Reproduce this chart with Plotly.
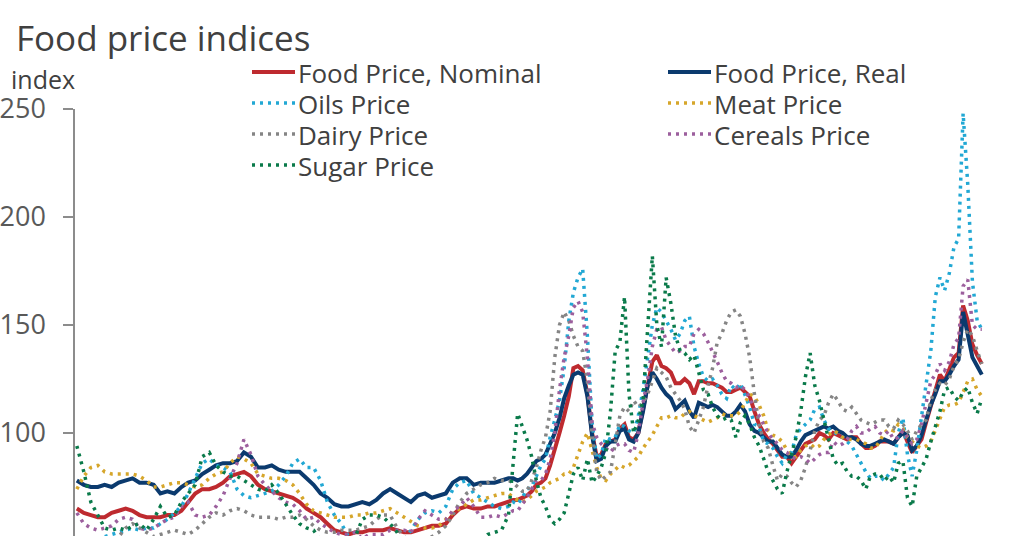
import pandas as pd
import plotly.graph_objects as go

# quarterly points 1990-2005, every second month 2006-2022
quarterly = pd.date_range("1990-05-01", "2005-11-01", freq="3MS")
bimonthly = pd.date_range("2006-01-01", "2022-11-01", freq="2MS")
dates = list(quarterly) + list(bimonthly)

food_nominal = [
    65, 63, 62,
    61, 61, 63, 64,  65, 64, 62, 61,  61, 61, 62, 62,  64, 68, 72, 74,
    74, 75, 77, 80,  81, 82, 80, 76,  74, 73, 72, 71,  70, 68, 65, 63,
    61, 58, 55, 54,  53, 54, 54, 55,  55, 55, 56, 55,  54, 54, 55, 56,
    57, 57, 58, 62,  65, 66, 65, 65,  66, 66, 67, 68,
    69, 69, 70, 71, 73, 76,
    77, 79, 85, 92, 100, 108,
    117, 130, 131, 129, 118, 100,
    89, 90, 95, 96, 97, 102,
    104, 98, 97, 100, 110, 122,
    133, 136, 131, 130, 128, 123,
    123, 125, 123, 118, 124, 124,
    123, 123, 122, 121, 119, 119,
    120, 121, 119, 117, 110, 104,
    100, 97, 95, 92, 89, 89,
    86, 89, 92, 95, 96, 97,
    100, 99, 97, 100, 99, 98,
    97, 98, 98, 95, 93, 93,
    94, 96, 96, 96, 95, 98,
    101, 96, 91, 94, 97, 105,
    113, 119, 127, 124, 129, 135,
    137, 159, 152, 141, 136, 132,
]
food_real = [
    78, 76, 75,
    75, 76, 75, 77,  78, 79, 77, 77,  76, 72, 73, 72,  75, 77, 78, 81,
    83, 85, 86, 86,  87, 91, 89, 84,  84, 85, 83, 82,  82, 82, 79, 76,
    72, 70, 67, 66,  66, 67, 68, 67,  69, 72, 74, 72,  70, 68, 71, 72,
    70, 71, 72, 77,  79, 79, 76, 77,  77, 77, 78, 79,
    79, 78, 79, 81, 84, 87,
    88, 90, 95, 100, 107, 116,
    122, 127, 128, 127, 117, 99,
    87, 88, 94, 96, 96, 101,
    102, 97, 96, 100, 110, 122,
    128, 125, 121, 118, 116, 111,
    113, 115, 110, 107, 114, 113,
    112, 113, 112, 110, 108, 108,
    110, 113, 110, 104, 101, 100,
    98, 96, 96, 93, 90, 89,
    89, 92, 96, 99, 100, 101,
    102, 103, 102, 103, 101, 100,
    98, 98, 97, 95, 94, 94,
    95, 96, 97, 96, 95, 98,
    100, 99, 92, 94, 99, 106,
    113, 118, 124, 124, 127, 131,
    134, 156, 146, 135, 131, 127,
]
oils = [
    47, 46, 48,
    50, 52, 53, 54,  55, 56, 55, 56,  56, 58, 60, 63,  66, 72, 79, 86,
    88, 85, 84, 82,  74, 71, 70, 71,  72, 73, 76, 80,  86, 88, 84, 84,
    78, 68, 62, 58,  52, 48, 45, 42,  42, 43, 48, 47,  50, 55, 60, 63,
    64, 63, 66, 74,  77, 78, 72, 70,  68, 66, 65, 66,
    68, 67, 70, 74, 75, 80,
    85, 88, 98, 106, 115, 130,
    152, 165, 172, 176, 145, 105,
    88, 90, 98, 97, 98, 104,
    103, 101, 100, 108, 120, 135,
    150, 158, 156, 152, 148, 143,
    146, 152, 154, 140, 132, 126,
    124, 125, 122, 118, 116, 122,
    120, 123, 118, 112, 104, 103,
    96, 95, 93, 89, 86, 90,
    91, 99, 102, 104, 106, 111,
    112, 106, 102, 101, 99, 98,
    96, 94, 90, 86, 82, 79,
    80, 80, 78, 81, 84, 100,
    107, 90, 80, 92, 107, 123,
    138, 163, 172, 166, 174, 186,
    190, 248, 215, 170, 152, 148,
]
meat = [
    74, 80, 84,
    85, 82, 81, 81,  81, 81, 80, 78,  75, 75, 76, 77,  77, 76, 75, 76,
    79, 81, 82, 86,  89, 88, 86, 81,  80, 79, 79, 78,  76, 72, 67, 64,
    63, 62, 61, 61,  61, 62, 62, 63,  63, 64, 65, 63,  61, 59, 57, 56,
    56, 57, 60, 63,  65, 67, 69, 69,  70, 71, 72, 72,
    70, 69, 68, 69, 71, 73,
    74, 75, 77, 78, 79, 81,
    81, 84, 90, 96, 100, 92,
    84, 79, 78, 81, 83, 85,
    84, 85, 87, 89, 93, 96,
    99, 103, 107, 107, 108, 107,
    107, 109, 110, 108, 107, 106,
    105, 106, 107, 109, 108, 108,
    108, 110, 114, 118, 117, 113,
    108, 101, 99, 98, 96, 92,
    89, 89, 92, 94, 95, 93,
    94, 97, 99, 101, 100, 98,
    97, 97, 97, 96, 95, 93,
    93, 96, 100, 102, 101, 104,
    102, 98, 96, 94, 93, 94,
    96, 101, 107, 112, 113, 113,
    114, 119, 124, 125, 120, 117,
]
dairy = [
    50, 49, 48,
    47, 48, 50, 52,  56, 58, 56, 54,  52, 53, 54, 55,  54, 53, 55, 58,
    61, 63, 62, 64,  65, 64, 62, 61,  61, 61, 60, 61,  61, 62, 60, 57,
    55, 54, 54, 55,  55, 55, 56, 57,  60, 62, 62, 56,  52, 49, 48, 50,
    52, 54, 57, 62,  68, 72, 74, 76,  77, 79, 78, 78,
    77, 75, 73, 73, 78, 84,
    92, 98, 110, 135, 150, 156,
    152, 145, 140, 138, 124, 100,
    82, 78, 80, 82, 95, 108,
    112, 110, 115, 112, 114, 118,
    124, 130, 128, 126, 121, 118,
    115, 111, 103, 100, 106, 112,
    122, 130, 142, 146, 152, 156,
    157, 154, 146, 135, 118, 104,
    96, 93, 85, 78, 81, 80,
    77, 75, 78, 84, 92, 101,
    106, 108, 114, 118, 115, 111,
    110, 112, 109, 106, 105, 104,
    105, 106, 106, 103, 102, 106,
    104, 101, 97, 101, 104, 106,
    115, 120, 123, 122, 125, 131,
    134, 142, 148, 145, 138, 132,
]
cereals = [
    63, 58, 56,
    55, 56, 57, 60,  61, 60, 56, 55,  56, 58, 60, 61,  66, 68, 62, 61,
    62, 66, 71, 79,  86, 97, 90, 80,  76, 73, 70, 68,  67, 64, 60, 61,
    58, 56, 54, 53,  53, 54, 51, 53,  53, 53, 55, 55,  55, 54, 60, 64,
    62, 60, 60, 64,  66, 70, 66, 61,  61, 62, 61, 63,
    64, 64, 67, 70, 74, 78,
    78, 81, 88, 100, 120, 135,
    145, 158, 161, 156, 135, 105,
    98, 95, 93, 91, 94, 95,
    95, 92, 91, 100, 114, 125,
    140, 148, 149, 143, 140, 137,
    138, 140, 140, 146, 148, 146,
    142, 138, 133, 128, 124, 123,
    121, 122, 120, 116, 111, 108,
    104, 100, 97, 95, 92, 91,
    89, 88, 89, 88, 86, 88,
    90, 91, 91, 96, 94, 95,
    97, 101, 103, 100, 100, 102,
    103, 100, 99, 101, 97, 98,
    101, 98, 95, 97, 104, 114,
    124, 127, 132, 129, 133, 141,
    144, 168, 171, 150, 148, 148,
]
sugar = [
    94, 82, 68,
    62, 56, 55, 56,  55, 57, 58, 55,  60, 66, 61, 62,  68, 72, 76, 89,
    91, 85, 82, 80,  80, 78, 76, 74,  73, 76, 72, 67,  62, 58, 56, 55,
    50, 45, 44, 46,  48, 52, 60, 62,  62, 61, 58, 54,  48, 45, 44, 46,
    48, 45, 43, 44,  42, 44, 46, 50,  53, 54, 55, 62,
    88, 109, 103, 97, 89, 78,
    70, 66, 60, 58, 60, 63,
    72, 81, 84, 78, 88, 77,
    80, 84, 91, 110, 138, 142,
    163, 118, 100, 106, 115, 150,
    182, 150, 140, 172, 160, 145,
    138, 137, 134, 136, 128, 120,
    118, 112, 108, 106, 107, 106,
    98, 105, 108, 104, 98, 94,
    88, 82, 78, 74, 72, 82,
    90, 98, 110, 126, 137, 122,
    115, 106, 96, 88, 85, 86,
    82, 80, 80, 78, 74, 80,
    81, 81, 78, 80, 77, 86,
    87, 70, 66, 80, 84, 88,
    96, 103, 110, 120, 121, 117,
    115, 119, 121, 114, 109, 116,
]

# name, values, colour, dash, width, legend column, legend row
series = [
    ("Food Price, Nominal", food_nominal, "#be2a2f", "solid", 4, 0, 0),
    ("Food Price, Real", food_real, "#0b3a6e", "solid", 4, 1, 0),
    ("Oils Price", oils, "#22a8d4", "3px,5px", 3.5, 0, 1),
    ("Meat Price", meat, "#d6a62b", "3px,5px", 3.5, 1, 1),
    ("Dairy Price", dairy, "#858585", "3px,5px", 3.5, 0, 2),
    ("Cereals Price", cereals, "#9c5f9d", "3px,5px", 3.5, 1, 2),
    ("Sugar Price", sugar, "#0a7a4a", "3px,5px", 3.5, 0, 3),
]

W, H = 1024, 536
L, R, T, B = 75, 1010, 109, 536  # plot area in pixels


def px(x):
    return (x - L) / (R - L)


def py(y):
    return (B - y) / (B - T)


fig = go.Figure()
annotations = []
shapes = []
leg_cols = [252, 668]
leg_rows = [72, 103, 134, 165]
for name, values, color, dash, width, col, row in series:
    fig.add_trace(go.Scatter(x=dates, y=values, name=name, mode="lines",
                             line=dict(color=color, dash=dash, width=width)))
    x0 = leg_cols[col]
    y0 = leg_rows[row]
    shapes.append(dict(type="line", xref="paper", yref="paper",
                       x0=px(x0), x1=px(x0 + 43), y0=py(y0), y1=py(y0),
                       line=dict(color=color, dash=dash, width=width)))
    annotations.append(dict(text=name, xref="paper", yref="paper",
                            x=px(x0 + 44), y=py(y0 + 1), xanchor="left", yanchor="middle",
                            showarrow=False, font=dict(size=26, color="#404040")))

annotations.append(dict(text="Food price indices", xref="paper", yref="paper",
                        x=px(14), y=py(37), xanchor="left", yanchor="middle",
                        showarrow=False, font=dict(size=35, color="#404040")))
annotations.append(dict(text="index", xref="paper", yref="paper",
                        x=px(9), y=py(79), xanchor="left", yanchor="middle",
                        showarrow=False, font=dict(size=25, color="#404040")))

fig.update_layout(
    width=W, height=H,
    margin=dict(l=L, r=W - R, t=T, b=H - B, autoexpand=False),
    paper_bgcolor="white", plot_bgcolor="white",
    font=dict(family="Open Sans", color="#404040"),
    showlegend=False,
    xaxis=dict(type="date", range=["1990-04-07", "2023-11-06"], visible=False),
    yaxis=dict(range=[52.3, 250], dtick=50, showgrid=False, zeroline=False,
               automargin=False, showline=True, linecolor="#8c8c8c", linewidth=1.5,
               ticks="outside", ticklen=10, tickcolor="#8c8c8c", tickwidth=1.5,
               ticklabelstandoff=12,
               tickfont=dict(size=27, color="#595959")),
    annotations=annotations,
    shapes=shapes,
)

# drop the browser's default body margin so the figure sits at the page corner
fig.write_html("out.html", config={"displayModeBar": False},
               post_script="document.body.style.margin = '0px';")
